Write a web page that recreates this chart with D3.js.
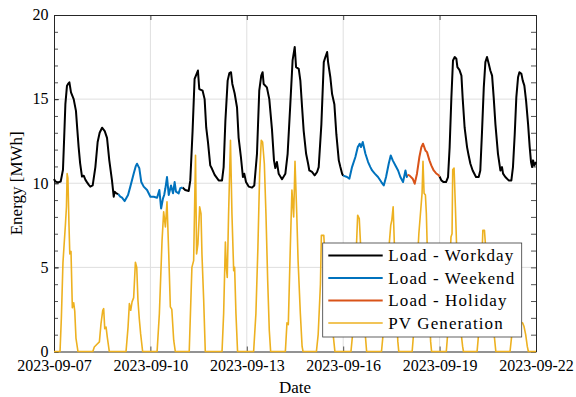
<!DOCTYPE html>
<html>
<head>
<meta charset="utf-8">
<script src="https://cdn.jsdelivr.net/npm/d3@7"></script>
<style>
  body { margin: 0; background: #fff; }
  svg { display: block; font-family: "Liberation Serif", "Times New Roman", serif; }
</style>
</head>
<body>
<div id="chart"></div>
<script>
var startDate = new Date(2023, 8, 7);
var endDate = new Date(2023, 8, 22);
var xTickLabels = ["2023-09-07", "2023-09-10", "2023-09-13", "2023-09-16", "2023-09-19", "2023-09-22"];
var yTicks = [0, 5, 10, 15, 20];
var weekendDays = ["2023-09-09", "2023-09-10", "2023-09-16", "2023-09-17"];
var holidayDays = ["2023-09-18"];
var seriesNames = ["Load - Workday", "Load - Weekend", "Load - Holiday", "PV Generation"];
var seriesColors = ["#000000", "#0072BD", "#D95319", "#EDB120"];

// load, [hours since 2023-09-07 00:00, MWh]
var loadPoints = [
  [0,10.25],[1,10.1],[3,10.05],[5,10.1],[6.7,10.8],[7.5,12.5],[8.5,14.7],[9.7,15.8],[10.5,15.9],[11.5,16.0],
  [12.7,15.4],[14.7,15.0],[16.4,14.3],[17.4,13.2],[18.4,12.15],[19.5,11.2],[20.9,10.4],[22.2,10.45],[23.5,10.2],
  [24.7,10.05],[26,9.9],[27.1,9.8],[28.9,9.87],[30.9,10.96],[32.6,12.45],[34.1,13.0],[35.9,13.3],[37.9,13.1],
  [39.6,12.7],[41.3,11.36],[43.3,10.17],[44.6,9.2],[45.3,9.5],[46.6,9.4],[48,9.35],
  [49.5,9.2],[50.8,9.14],[52.8,8.94],[55.3,9.3],[57,9.8],[59.5,10.57],[61,11.0],[62,11.16],[63.7,10.9],
  [65.2,10.07],[67,9.8],[69.5,9.6],[72,9.2],[74.5,9.2],[77,9.14],[78.7,9.6],[80,8.5],[81.4,9.1],[82.3,9.3],
  [83.2,9.7],[84.4,10.37],[85.7,9.3],[87.4,9.87],[88.9,9.4],[90.1,10.07],[91.1,9.5],[93.1,9.4],[94.3,9.7],[96,9.75],
  [98,9.6],[100.6,9.54],[101.8,10.17],[103.5,13.1],[105,16.2],[106,16.4],[107.5,16.7],[108.5,15.6],[111,15.5],
  [112.5,15.0],[113.7,13.3],[115,12.45],[116.7,11.06],[118,10.86],[120,10.5],[123,10.17],[125.5,10.17],
  [126.7,10.96],[128,13.7],[129.7,16.1],[131,16.55],[132.2,16.6],[133.2,15.9],[134.9,15.35],[136.7,14.5],
  [137.9,12.7],[139.6,11.56],[141.1,10.37],[142.1,10.57],[143.4,10.07],[145.4,9.8],[147.9,9.74],[149.6,9.87],
  [151.6,11.75],[153.3,15.5],[154.8,16.4],[155.8,16.6],[156.6,15.9],[159,15.7],[160.8,15.0],[162.8,13.2],
  [164.3,11.36],[165.3,10.9],[166.5,11.26],[167.8,10.57],[170.3,10.24],[172.8,10.57],[174.5,11.75],[176.5,14.7],
  [178.2,17.3],[179.8,18.1],[180.8,16.9],[182.8,16.8],[184,16.1],[185.3,14.5],[186.5,13.1],[188.3,11.75],
  [189.8,11.16],[190.7,10.76],[192.7,10.67],[194.7,10.47],[196.5,10.67],[197.7,10.96],[199.7,13.5],[201.5,17.2],
  [202.7,17.5],[204,17.8],[204.7,17.2],[206.4,16.3],[207.7,15.3],[209.4,14.7],[210.9,12.9],[212.7,11.36],
  [213.9,10.96],[215.2,10.57],[216,10.45],
  [218.9,10.37],[220.6,10.27],[222.6,10.96],[225.1,11.56],[226.9,12.15],[228.3,12.35],[229.3,12.15],[230.6,12.45],
  [232.6,11.75],[234.6,11.26],[236.3,10.96],[237.6,10.76],[239.6,10.57],[242,10.37],[244.5,10.07],[246.3,9.87],
  [248,10.37],[250,11.16],[251.5,11.65],[253,11.36],[255,11.06],[257,10.76],[258.7,10.37],[260.7,10.07],
  [262.5,10.76],[263.5,10.37],[264,10.5],
  [265.4,10.47],[267.9,10.27],[269.4,9.97],[271.1,10.57],[272.9,11.56],[274.4,12.15],[275.6,12.35],[277.4,11.95],
  [278.6,11.85],[280.4,11.36],[281.8,11.06],[283.6,10.76],[285.3,10.6],[287.3,10.47],[288,10.4],
  [289.3,10.17],[291,10.07],[292.8,10.07],[294.3,10.37],[295.5,12.15],[296.8,15.1],[298,17.3],[299.3,17.5],
  [300.5,17.4],[301.3,16.9],[302.8,16.74],[304.3,16.4],[305.2,15.1],[306.7,13.3],[308.5,12.15],[309.7,11.65],
  [311,11.16],[312.7,10.76],[315.2,10.37],[317.2,10.37],[318.4,10.76],[319.7,13.1],[321,15.7],[322.2,17.2],
  [323.4,17.5],[324.7,17.1],[325.9,16.7],[327.2,16.4],[328.4,15.1],[329.7,13.5],[331.6,11.75],[333.4,10.76],
  [334.6,10.96],[335.4,10.57],[337.1,10.37],[339.6,10.17],[341.6,10.17],[342.8,10.96],[344.1,12.9],[345.3,15.1],
  [346.6,16.3],[347.6,16.6],[349.1,16.5],[350.1,16.1],[351.3,15.8],[352.6,14.9],[354.1,13.5],[355.3,12.15],
  [356.3,11.26],[357.1,10.96],[357.8,11.36],[358.8,11.06],[360,11.26]
];

// PV generation, [hours since 2023-09-07 00:00, MWh]
var pvPoints = [
  [0,0],[4.5,0],[5.5,2],[6.7,5.3],[8.5,7.5],[9.3,8.6],[9.8,10.57],[10.4,10.3],[11.2,7.5],[11.8,5.8],[12.7,5.95],
  [13.7,2.6],[14.7,2.9],[15.5,2.4],[16.4,0.8],[17.9,0],
  [29,0],[30.1,0.27],[32.1,0.43],[33.9,0.57],[35.1,1.65],[36.4,2.45],[37.1,2.55],[37.9,1.36],[38.9,1.45],[39.8,0.86],[41.3,0],
  [53.8,0],[55.3,1.45],[56.3,2.85],[57.3,2.45],[58.3,2.95],[59.5,3.2],[60.8,5.3],[61.8,5.0],[62.7,3.05],[63.7,1.95],[64.7,1.06],[66.2,0],
  [77,0],[78.7,2.25],[80.7,6.6],[81.9,8.3],[83.2,7.4],[84.4,8.9],[85.7,5.8],[86.9,2.65],[88,2.5],[89.4,0.67],[90.6,0],
  [101,0],[103,5.0],[104.3,5.4],[105.7,11.66],[106.5,5.8],[107.5,6.4],[108.8,8.6],[109.8,8.2],[110.5,5.8],[111.8,3.05],[113,0],
  [125.5,0],[126.7,2.25],[128,6.5],[128.7,5.0],[129.4,4.4],[130.4,8.2],[131.8,12.55],[132.9,8.2],[134.2,4.8],[134.9,5.0],[135.9,2.25],[137.1,0],
  [149.1,0],[150.8,2.25],[152.3,6.2],[153.6,10.57],[154.8,12.55],[155.8,12.45],[157.1,11.16],[158.3,8.2],[159.6,4.2],[160.8,1.26],[161.8,0],
  [172.8,0],[174,1.7],[175,1.6],[176.5,6.2],[177.7,9.6],[179,8.0],[180,11.3],[181.3,8.2],[182.3,5.4],[184,2.25],[185.3,0.3],[186,0],
  [196,0],[197.3,1],[199,4],[199.7,6.9],[201.5,6.9],[202.5,5.5],[204.5,4],[206.5,2.5],[208.5,1],[209.8,0],
  [221.8,0],[223,1],[225,4.5],[226.8,8.1],[228,7.9],[229.5,5.5],[231,3],[232.5,1],[233.5,0],
  [244.6,0],[246,1.2],[248.5,4],[250.5,6.5],[251.5,7.5],[252.3,7.8],[253.3,8.6],[254.3,6.2],[255.5,3],[256.8,0.6],[257.5,0],
  [267.5,0],[268.7,1.2],[270.5,4],[272.5,7],[274,8.5],[274.9,9.4],[275.6,11.3],[276.4,9.4],[277.4,9.3],[278.1,8.2],[279,5.5],[280.3,2.5],[281.3,0.6],[282,0],
  [293,0],[294.2,1.2],[295.5,5],[296.5,6.8],[297.3,7.0],[297.8,10.8],[298.8,10.9],[299.8,8.6],[300.8,6],[302,3.5],[303.5,1.5],[305.2,0.3],[305.8,0],
  [316,0],[317.3,1.2],[319,4],[320.3,7.2],[321.5,7.2],[323,5.5],[325,3.5],[327,2],[329,0.8],[330,0],
  [340.6,0],[341.8,0.9],[344,1.3],[346,1.5],[348.5,1.75],[350,1.7],[351,1.5],[352.3,1.0],[353.5,0.3],[354.3,0],[360,0]
];

var W = 576, H = 397;
var plotL = 54, plotR = 536, plotT = 15, plotB = 351.5;

function toDate(h) { return new Date(startDate.getTime() + h * 3600e3); }
var fmtDay = d3.timeFormat("%Y-%m-%d");
var parseDay = d3.timeParse("%Y-%m-%d");

function dayType(h) {
  var d = fmtDay(toDate(h));
  if (holidayDays.includes(d)) return 2;
  if (weekendDays.includes(d)) return 1;
  return 0;
}

var svg = d3.select("#chart").append("svg").attr("width", W).attr("height", H);

var x = d3.scaleTime().domain([startDate, endDate]).range([plotL, plotR]);
var y = d3.scaleLinear().domain([0, 20]).range([plotB, plotT]);

var xTicks = xTickLabels.map(parseDay);
var minorY = d3.range(0, 21);

// grid
svg.append("g").selectAll("line").data(xTicks.slice(1, -1)).enter().append("line")
  .attr("x1", d => x(d)).attr("x2", d => x(d)).attr("y1", plotT).attr("y2", plotB)
  .attr("stroke", "#dfdfdf").attr("stroke-width", 1);
svg.append("g").selectAll("line").data(yTicks.slice(1, -1)).enter().append("line")
  .attr("x1", plotL).attr("x2", plotR).attr("y1", d => y(d)).attr("y2", d => y(d))
  .attr("stroke", "#dfdfdf").attr("stroke-width", 1);

// axes
var axisColor = "#262626";
var xAxis = svg.append("g").attr("transform", "translate(0," + plotB + ")")
  .call(d3.axisBottom(x).tickValues(xTicks).tickFormat(fmtDay).tickSizeInner(-5).tickSizeOuter(0).tickPadding(8.5));
var xAxisTop = svg.append("g").attr("transform", "translate(0," + plotT + ")")
  .call(d3.axisTop(x).tickValues(xTicks).tickFormat("").tickSizeInner(-5).tickSizeOuter(0));
var yAxis = svg.append("g").attr("transform", "translate(" + plotL + ",0)")
  .call(d3.axisLeft(y).tickValues(yTicks).tickSizeInner(-5).tickSizeOuter(0).tickPadding(5.5));
var yMinor = svg.append("g").attr("transform", "translate(" + plotL + ",0)")
  .call(d3.axisLeft(y).tickValues(minorY).tickFormat("").tickSizeInner(-4).tickSizeOuter(0));
var yAxisRight = svg.append("g").attr("transform", "translate(" + plotR + ",0)")
  .call(d3.axisRight(y).tickValues(minorY).tickFormat("").tickSizeInner(-5).tickSizeOuter(0));

[xAxis, xAxisTop, yAxis, yMinor, yAxisRight].forEach(function (g) {
  g.selectAll("path.domain").attr("stroke", axisColor).attr("stroke-width", 1);
  g.selectAll(".tick line").attr("stroke", axisColor).attr("stroke-width", 0.8);
  g.selectAll("text").attr("fill", "#000").style("font-size", "16px").style("font-family", "'Liberation Serif', serif");
});
yAxis.selectAll("text").attr("dy", "0.3em");

// load lines, split by day type
var runs = [];
for (var i = 1; i < loadPoints.length; i++) {
  var t = dayType((loadPoints[i - 1][0] + loadPoints[i][0]) / 2);
  var last = runs[runs.length - 1];
  if (last && last.type === t) last.pts.push(loadPoints[i]);
  else runs.push({ type: t, pts: [loadPoints[i - 1], loadPoints[i]] });
}
runs.sort((a, b) => a.type - b.type);

var line = d3.line().x(d => x(toDate(d[0]))).y(d => y(d[1]));

svg.append("g").selectAll("path").data(runs).enter().append("path")
  .attr("d", d => line(d.pts))
  .attr("fill", "none")
  .attr("stroke", d => seriesColors[d.type])
  .attr("stroke-width", 2)
  .attr("stroke-linejoin", "round");

svg.append("path")
  .attr("d", line(pvPoints))
  .attr("fill", "none")
  .attr("stroke", seriesColors[3])
  .attr("stroke-width", 1.6)
  .attr("stroke-linejoin", "round");

// axis labels
svg.append("text")
  .attr("x", (plotL + plotR) / 2).attr("y", 393)
  .attr("text-anchor", "middle")
  .style("font-size", "17px")
  .text("Date");

svg.append("text")
  .attr("transform", "translate(22," + ((plotT + plotB) / 2) + ") rotate(-90)")
  .attr("text-anchor", "middle")
  .style("font-size", "17px")
  .text("Energy [MWh]");

// legend
var lgX = 322.7, lgY = 243, lgW = 199, lgH = 94, rowH = 22.5;
var legend = svg.append("g").attr("transform", "translate(" + lgX + "," + lgY + ")");
legend.append("rect").attr("width", lgW).attr("height", lgH)
  .attr("fill", "#fff").attr("stroke", "#3a3a3a").attr("stroke-width", 0.8);
var items = legend.selectAll("g").data(seriesNames).enter().append("g")
  .attr("transform", (d, i) => "translate(0," + (12.5 + i * rowH) + ")");
items.append("line").attr("x1", 5.6).attr("x2", 60).attr("y1", 0).attr("y2", 0)
  .attr("stroke", (d, i) => seriesColors[i]).attr("stroke-width", (d, i) => i < 3 ? 2 : 1.6);
items.append("text").attr("x", 65.6).attr("dy", "0.34em")
  .style("font-size", "17px").style("letter-spacing", "1.1px")
  .text(d => d);
</script>
</body>
</html>
